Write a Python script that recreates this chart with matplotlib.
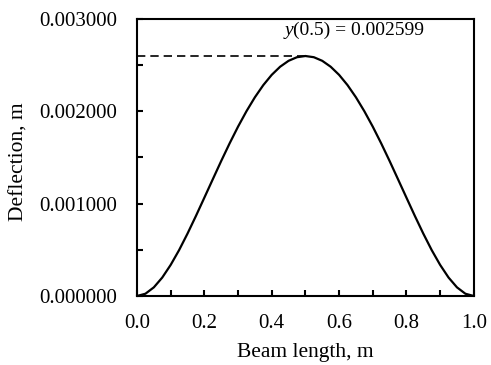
import matplotlib
matplotlib.use("Agg")
import matplotlib.pyplot as plt
from matplotlib.ticker import MultipleLocator, FormatStrFormatter

plt.rcParams['font.family'] = 'Liberation Serif'

# beam deflection
x = [0.0, 0.025, 0.05, 0.075, 0.1, 0.125, 0.15, 0.175, 0.2, 0.225,
     0.25, 0.275, 0.3, 0.325, 0.35, 0.375, 0.4, 0.425, 0.45, 0.475,
     0.5, 0.525, 0.55, 0.575, 0.6, 0.625, 0.65, 0.675, 0.7, 0.725,
     0.75, 0.775, 0.8, 0.825, 0.85, 0.875, 0.9, 0.925, 0.95, 0.975, 1.0]
y = [0.0, 0.0000247, 0.0000938, 0.000200, 0.000337, 0.000497, 0.000676, 0.000867, 0.001065, 0.001264,
     0.001462, 0.001653, 0.001834, 0.002001, 0.002152, 0.002284, 0.002395, 0.002483, 0.002547, 0.002586,
     0.002599, 0.002586, 0.002547, 0.002483, 0.002395, 0.002284, 0.002152, 0.002001, 0.001834, 0.001653,
     0.001462, 0.001264, 0.001065, 0.000867, 0.000676, 0.000497, 0.000337, 0.000200, 0.0000938, 0.0000247, 0.0]
x_max = 0.5
y_max = 0.002599

fig = plt.figure(figsize=(4.91, 3.65), dpi=100)
ax = fig.add_axes([0.279, 0.189, 0.686, 0.759])

ax.plot(x, y, color='black', lw=1.6)
ax.plot([0, x_max], [y_max, y_max], color='black', lw=1.2, ls=(0, (5, 3)))
# annotation: italic y, then the rest
ax.text(0.463, 0.00288, 'y', style='italic', ha='right', va='center', fontsize=14)
ax.text(0.463, 0.00288, '(0.5) = 0.002599', ha='left', va='center', fontsize=14)

ax.set_xlim(0, 1)
ax.set_ylim(0, 0.003)
ax.xaxis.set_major_locator(MultipleLocator(0.2))
ax.xaxis.set_minor_locator(MultipleLocator(0.1))
ax.yaxis.set_major_locator(MultipleLocator(0.001))
ax.yaxis.set_minor_locator(MultipleLocator(0.0005))
ax.xaxis.set_major_formatter(FormatStrFormatter('%.1f'))
ax.yaxis.set_major_formatter(FormatStrFormatter('%.6f'))
ax.tick_params(which='both', direction='in', length=4, width=1.5, labelsize=15,
               top=False, right=False)
ax.tick_params(axis='x', pad=13)
ax.tick_params(axis='y', pad=14)
for s in ax.spines.values():
    s.set_linewidth(1.5)

fig.text(305 / 491, 1 - 353 / 365, 'Beam length, m', ha='center', va='center', fontsize=15.5)
fig.text(19 / 491, 1 - 162 / 365, 'Deflection, m', ha='center', va='center',
         rotation=90, fontsize=15.5)

fig.savefig('out.png', dpi=100)
